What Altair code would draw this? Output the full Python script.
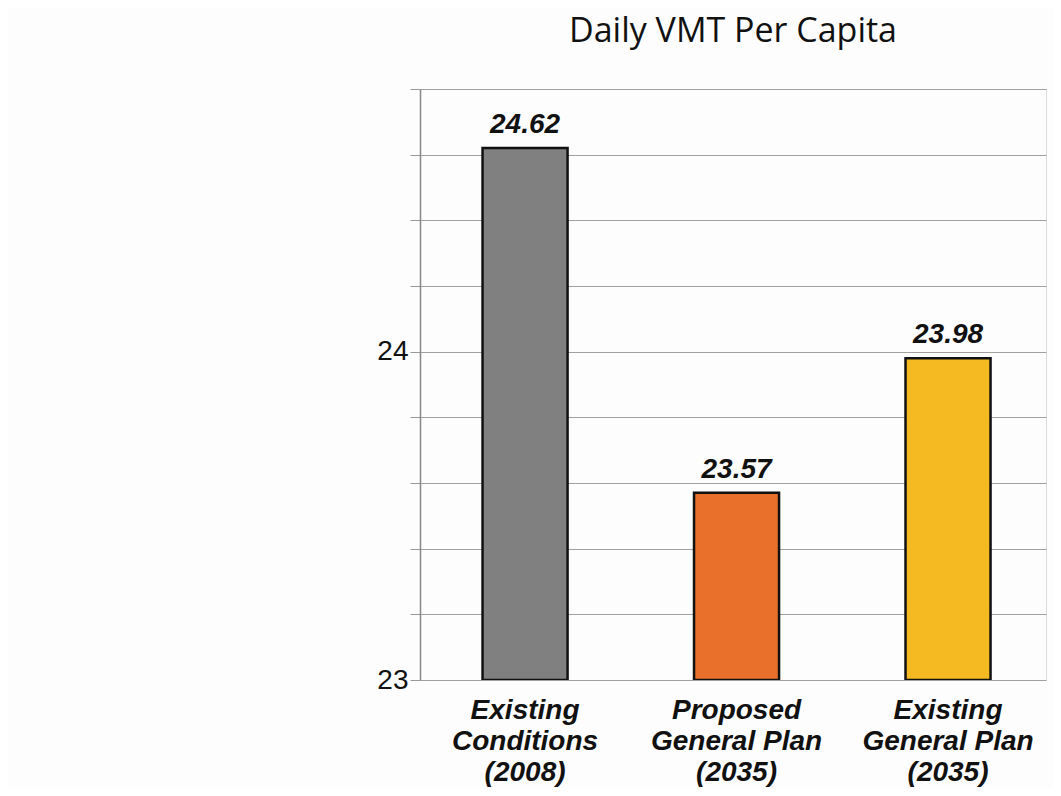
import altair as alt
import pandas as pd

categories = ["Existing|Conditions|(2008)", "Proposed|General Plan|(2035)", "Existing|General Plan|(2035)"]
values = [24.62, 23.57, 23.98]
colors = ["#808080", "#E8702A", "#F5B921"]
grid_values = [23.0, 23.2, 23.4, 23.6, 23.8, 24.0, 24.2, 24.4, 24.6, 24.8]

df = pd.DataFrame({"cat": categories, "value": values, "color": colors,
                   "label": [f"{v:.2f}" for v in values]})

x = alt.X("cat:N", sort=categories, title=None,
          scale=alt.Scale(paddingInner=0.598, paddingOuter=0.279, align=0.53),
          axis=alt.Axis(labelExpr="split(datum.label, '|')", labelAngle=0,
                        labelFont="Liberation Sans", labelFontSize=28,
                        labelFontStyle="italic", labelFontWeight="bold",
                        labelColor="#111", labelLineHeight=31, labelPadding=16,
                        ticks=False, domain=False, labelBaseline="top"))
y = alt.Y("value:Q", title=None,
          scale=alt.Scale(domain=[23, 24.8], nice=False, zero=False),
          axis=alt.Axis(values=grid_values,
                        labelExpr="datum.value % 1 == 0 ? format(datum.value, 'd') : ''",
                        labelFont="Liberation Sans", labelFontSize=28, labelColor="#111",
                        gridColor="#a0a0a0", gridWidth=1.2, tickColor="#999",
                        tickSize=10, domainColor="#888", domainWidth=1.5, labelPadding=2))

bars = alt.Chart(df).mark_bar(stroke="#111", strokeWidth=2.5, clip=True).encode(
    x=x, y=y, y2=alt.datum(23),
    color=alt.Color("color:N", scale=None))

text = alt.Chart(df).mark_text(baseline="alphabetic", dy=-15, font="Liberation Sans",
                               fontSize=28, fontStyle="italic", fontWeight="bold",
                               color="#111").encode(
    x=alt.X("cat:N", sort=categories), y="value:Q", text="label:N")

chart = alt.layer(bars, text).properties(
    width=626, height=591,
    title=alt.Title("Daily VMT Per Capita", font="Open Sans", fontSize=34,
                    fontWeight="normal", color="#111", offset=40, anchor="middle"),
    padding={"left": 412, "top": 81, "right": 7, "bottom": 108},
    autosize=alt.AutoSizeParams(type="none"),
).configure_view(stroke="#999", strokeWidth=2).configure(background="#fdfdfd")

chart.save("out.html", embed_options={"renderer": "svg", "actions": False})
